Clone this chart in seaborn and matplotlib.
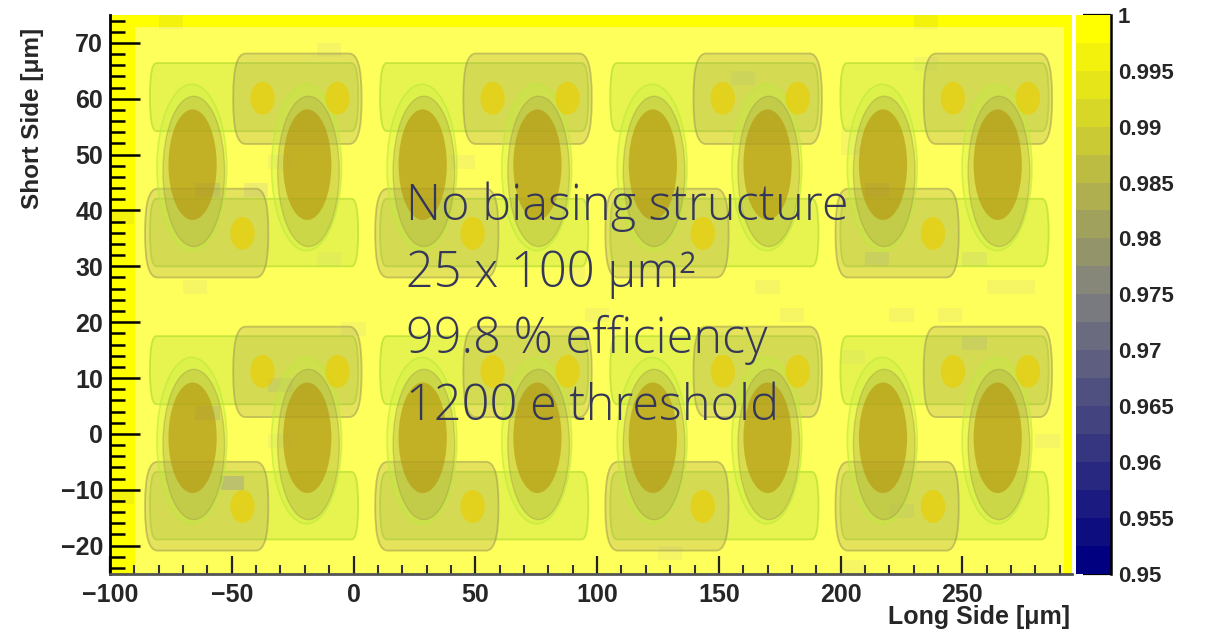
import numpy as np
import pandas as pd
import matplotlib
matplotlib.use("Agg")
import matplotlib.pyplot as plt
import seaborn as sns
from matplotlib.colors import LinearSegmentedColormap, ListedColormap
from matplotlib.patches import Ellipse, FancyBboxPatch, Rectangle
from matplotlib.transforms import Affine2D

# ---------------------------------------------------------------- data
# binning of the in-pixel efficiency map (um)
x_lo, x_hi, x_bin = -100.0, 295.0, 5.0
y_lo, y_hi, y_bin = -25.0, 75.0, 2.5

# bins below full efficiency: left edge x [um], bottom edge y [um], efficiency
low_x = [-80, -15, -100, -70, -55, -65, -35, -65, -45, -15, -5, -35, -35, -100,
         230, 155, 230, 200, 200, 210, 210, 250, 165, 260, 270, 175, 220, 240,
         250, 200, 125, 200, 220, 280, 95, 40, 85]
low_y = [72.5, 67.5, 37.5, 25.0, -10.0, 2.5, 47.5, 42.5, 42.5, 30.0, 17.5, 7.5, -2.5, -12.5,
         72.5, 62.5, 65.0, 50.0, 52.5, 42.5, 30.0, 30.0, 25.0, 25.0, 25.0, 20.0, 20.0, 20.0,
         15.0, 12.5, -22.5, -25.0, -15.0, -2.5, 20.0, 47.5, 27.5]
low_eff = [0.997, 0.996, 0.997, 0.996, 0.982, 0.988, 0.995, 0.988, 0.994, 0.995, 0.996, 0.990, 0.996, 0.997,
           0.997, 0.993, 0.996, 0.996, 0.996, 0.988, 0.991, 0.993, 0.996, 0.996, 0.996, 0.996, 0.996, 0.996,
           0.991, 0.996, 0.996, 0.996, 0.993, 0.995, 0.996, 0.996, 0.995]

cbar_ticks = [0.95, 0.955, 0.96, 0.965, 0.97, 0.975, 0.98, 0.985, 0.99, 0.995, 1.0]
cbar_labels = ["0.95", "0.955", "0.96", "0.965", "0.97", "0.975", "0.98", "0.985", "0.99", "0.995", "1"]
x_major = [-100, -50, 0, 50, 100, 150, 200, 250]
y_major = [-20, -10, 0, 10, 20, 30, 40, 50, 60, 70]

notes = ["No biasing structure", "25 x 100 \u03bcm\u00b2", "99.8 % efficiency", "1200 e threshold"]

# ---------------------------------------------------------------- efficiency grid
nx = int(round((x_hi - x_lo) / x_bin))
ny = int(round((y_hi - y_lo) / y_bin))
eff = np.ones((ny, nx))
for xv, yv, ev in zip(low_x, low_y, low_eff):
    ix = int(round((xv - x_lo) / x_bin))
    iy = int(round((yv - y_lo) / y_bin))
    eff[iy, ix:ix + 2] = ev
# rows from top (high y) to bottom for the heatmap
y_centers = y_lo + y_bin * (np.arange(ny) + 0.5)
x_centers = x_lo + x_bin * (np.arange(nx) + 0.5)
df = pd.DataFrame(eff[::-1], index=y_centers[::-1], columns=x_centers)

# ---------------------------------------------------------------- style
sns.set_style("white")
plt.rcParams["font.family"] = ["Liberation Sans", "DejaVu Sans"]
plt.rcParams["font.weight"] = "bold"

# navy -> grey -> yellow palette, 20 contour levels
base = LinearSegmentedColormap.from_list(
    "navy_yellow", [(0.0, (0.0, 0.0, 0.50)), (0.5, (0.50, 0.50, 0.50)), (1.0, (1.0, 1.0, 0.0))])
cmap = ListedColormap([base(i / 19) for i in range(20)])

W, H = 1210, 633
fig = plt.figure(figsize=(W / 100, H / 100), dpi=100)
ax = fig.add_axes([110 / W, 1 - 573.5 / H, (1072 - 110) / W, (573.5 - 15) / H])
cax = fig.add_axes([1076 / W, 1 - 573.5 / H, 35 / W, (573.5 - 15) / H])

sns.heatmap(df, ax=ax, cbar_ax=cax, cmap=cmap, vmin=0.95, vmax=1.0,
            xticklabels=False, yticklabels=False)


def xpos(v):
    return (v - x_lo) / x_bin


def ypos(v):
    return (y_hi - v) / y_bin


# um -> heatmap cell coordinates
um = Affine2D().scale(1 / x_bin, -1 / y_bin).translate(-x_lo / x_bin, y_hi / y_bin) + ax.transData

# ---------------------------------------------------------------- pixel layout overlay
ax.add_patch(Rectangle((-89.7, -25.0), 381.6, 97.8, transform=um,
                       facecolor="white", alpha=0.36, lw=0, zorder=1.1))

pitch_x, pitch_y = 94.5, 48.9
origin_x, origin_y = -66.1, 48.2
n_cols, n_rows = 4, 2

bar_green = dict(facecolor=(0.76, 0.89, 0.24, 0.38), edgecolor=(0.70, 0.87, 0.20, 0.7), lw=1.3, zorder=1.2)
box_olive = dict(facecolor=(0.68, 0.66, 0.36, 0.32), edgecolor=(0.58, 0.57, 0.32, 0.5), lw=1.3, zorder=1.2)
ring_green = dict(facecolor=(0.78, 0.92, 0.26, 0.32), edgecolor=(0.74, 0.91, 0.24, 0.6), lw=1.2, zorder=1.3)
halo_olive = dict(facecolor=(0.66, 0.62, 0.26, 0.30), edgecolor=(0.58, 0.56, 0.28, 0.35), lw=1.0, zorder=1.4)
core_dark = dict(facecolor=(0.70, 0.56, 0.02, 0.55), edgecolor="none", zorder=1.5)
dot_gold = dict(facecolor=(0.92, 0.80, 0.0, 0.65), edgecolor="none", zorder=1.5)

for r in range(n_rows):
    for c in range(n_cols):
        ox = origin_x + c * pitch_x
        oy = origin_y - r * pitch_y
        # routing bars
        for y0, y1 in [(6.0, 18.2), (-18.2, -6.1)]:
            ax.add_patch(FancyBboxPatch((ox - 17.5, oy + y0), 85.5, y1 - y0,
                                        boxstyle="round,pad=0,rounding_size=2.7",
                                        mutation_aspect=2.2, transform=um, **bar_green))
        # bump pads
        for x0, x1, y0, y1 in [(16.7, 69.4, 3.7, 19.9), (-19.5, 31.1, -20.2, -4.3)]:
            ax.add_patch(FancyBboxPatch((ox + x0, oy + y0), x1 - x0, y1 - y0,
                                        boxstyle="round,pad=0,rounding_size=5.0",
                                        mutation_aspect=1.5, transform=um, **box_olive))
        # collection electrodes
        for dx in (0.0, 47.1):
            ax.add_patch(Ellipse((ox + dx - 0.3, oy - 0.5), 28.7, 29.8, transform=um, **ring_green))
            ax.add_patch(Ellipse((ox + dx + 0.5, oy - 1.2), 25.3, 26.9, transform=um, **halo_olive))
            ax.add_patch(Ellipse((ox + dx, oy), 19.8, 19.8, transform=um, **core_dark))
        # bump bonds
        for dx, dy in [(28.7, 11.9), (59.5, 11.9), (20.5, -12.3)]:
            ax.add_patch(Ellipse((ox + dx, oy + dy), 10.0, 5.9, transform=um, **dot_gold))

# ---------------------------------------------------------------- axes
ax.set_axisbelow(False)
ax.set_xlim(0, xpos(x_hi))
ax.set_ylim(ypos(y_lo), ypos(y_hi))
ax.set_xticks([xpos(v) for v in x_major])
ax.set_xticklabels([str(v).replace("-", "\u2212") for v in x_major])
ax.set_xticks([xpos(v) for v in range(-100, 295, 10)], minor=True)
ax.set_yticks([ypos(v) for v in y_major])
ax.set_yticklabels([str(v).replace("-", "\u2212") for v in y_major])
ax.set_yticks([ypos(v) for v in range(-24, 75, 2)], minor=True)

ax.tick_params(axis="x", which="major", direction="in", length=13, width=1.6, color="#222222",
               labelsize=18, pad=7, bottom=True)
ax.tick_params(axis="x", which="minor", direction="in", length=6.5, width=1.5, color="#333333", bottom=True)
ax.tick_params(axis="y", which="major", direction="in", length=21.5, width=1.8, color="black",
               labelsize=18, pad=5, left=True)
ax.tick_params(axis="y", which="minor", direction="in", length=11, width=1.8, color="black", left=True)
for lab in ax.get_xticklabels() + ax.get_yticklabels():
    lab.set_fontweight("bold")

for side in ("top", "right"):
    ax.spines[side].set_visible(False)
ax.spines["left"].set_visible(True)
ax.spines["left"].set_color("black")
ax.spines["left"].set_linewidth(2.0)
ax.spines["bottom"].set_visible(True)
ax.spines["bottom"].set_color("#555555")
ax.spines["bottom"].set_linewidth(2.0)
for sp in ax.spines.values():
    sp.set_zorder(10)

ax.set_xlabel("")
ax.set_ylabel("")
fig.text(1070 / W, 1 - 617 / H, "Long Side [\u03bcm]", ha="right", va="center",
         fontsize=18, fontweight="bold")
fig.text(33 / W, 1 - 28 / H, "Short Side [\u03bcm]", rotation=90, ha="center", va="top",
         fontsize=17.5, fontweight="bold")

# ---------------------------------------------------------------- colour bar
cbar = ax.collections[0].colorbar
cbar.outline.set_visible(False)
cbar.set_ticks(cbar_ticks)
cbar.set_ticklabels(cbar_labels)
cax.yaxis.set_ticks_position("right")
cax.tick_params(axis="y", which="major", direction="in", length=20, width=1.6, color="black",
                labelsize=16, pad=5, right=True)
cax.tick_params(axis="y", which="minor", right=False, left=False)
for lab in cax.get_yticklabels():
    lab.set_fontweight("bold")
cax.spines["right"].set_visible(True)
cax.spines["right"].set_color("black")
cax.spines["right"].set_linewidth(1.8)

# ---------------------------------------------------------------- annotation block
for i, line in enumerate(notes):
    fig.text(406 / W, 1 - (220 + 66.7 * i) / H, line, ha="left", va="baseline",
             fontsize=35, color="#35375a", family=["Open Sans", "DejaVu Sans"],
             fontweight="light", zorder=20)

fig.savefig("out.png", dpi=100)
